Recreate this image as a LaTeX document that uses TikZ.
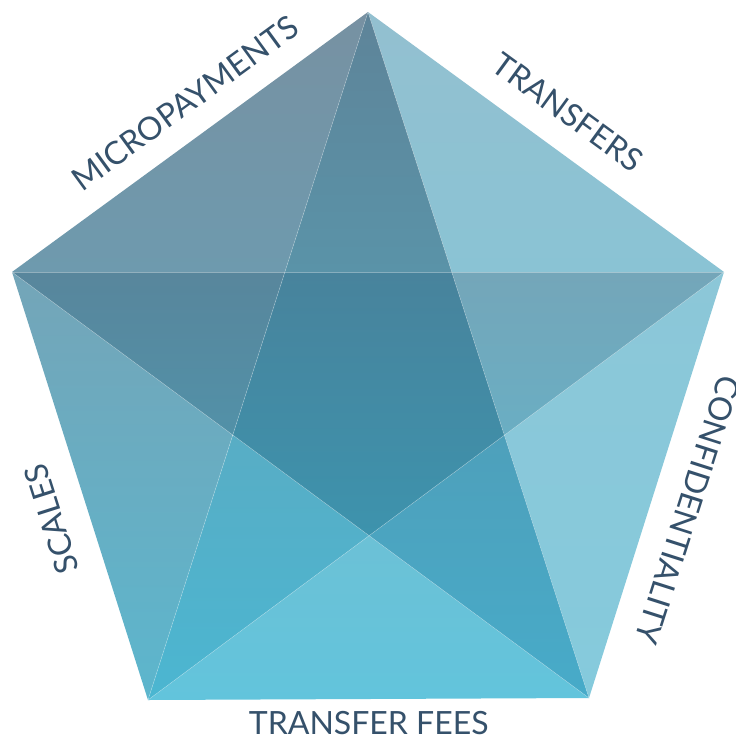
\documentclass[tikz,border=0pt]{standalone}
\usepackage{fontspec}
\setmainfont{Lato}
\begin{document}
\begin{tikzpicture}[x=1pt,y=-1pt,
  lbl/.style={font=\fontsize{32}{32}\selectfont, text=labelc, inner sep=0pt, anchor=center},
  seam/.style={draw=white, draw opacity=0.35, line width=0.5pt}
]
\definecolor{labelc}{HTML}{35516B}
\useasboundingbox (0,0) rectangle (736,740);
\fill[white] (0,0) rectangle (736,740);
% outer vertices
\coordinate (T) at (368,12);
\coordinate (R) at (724,272);
\coordinate (BR) at (589,698);
\coordinate (BL) at (148,700);
\coordinate (L) at (12,272);
% inner vertices
\coordinate (A) at (intersection of T--BL and L--R);
\coordinate (B) at (intersection of T--BR and L--R);
\coordinate (C) at (intersection of T--BR and R--BL);
\coordinate (D) at (intersection of L--BR and R--BL);
\coordinate (E) at (intersection of T--BL and L--BR);
% outer triangles
\shade[top color={rgb,255:red,119;green,145;blue,162}, bottom color={rgb,255:red,110;green,154;blue,174}] (T) -- (L) -- (A) -- cycle;
\shade[top color={rgb,255:red,147;green,192;blue,208}, bottom color={rgb,255:red,138;green,195;blue,212}] (T) -- (R) -- (B) -- cycle;
\shade[top color={rgb,255:red,140;green,199;blue,216}, bottom color={rgb,255:red,133;green,202;blue,220}] (R) -- (BR) -- (C) -- cycle;
\shade[top color={rgb,255:red,108;green,193;blue,214}, bottom color={rgb,255:red,98;green,196;blue,220}] (BR) -- (BL) -- (D) -- cycle;
\shade[top color={rgb,255:red,116;green,165;blue,184}, bottom color={rgb,255:red,92;green,182;blue,205}] (L) -- (BL) -- (E) -- cycle;
% star tips
\shade[top color={rgb,255:red,94;green,132;blue,153}, bottom color={rgb,255:red,90;green,147;blue,168}] (T) -- (A) -- (B) -- cycle;
\shade[top color={rgb,255:red,116;green,166;blue,185}, bottom color={rgb,255:red,106;green,174;blue,195}] (R) -- (B) -- (C) -- cycle;
\shade[top color={rgb,255:red,78;green,160;blue,187}, bottom color={rgb,255:red,71;green,171;blue,201}] (BR) -- (C) -- (D) -- cycle;
\shade[top color={rgb,255:red,88;green,173;blue,197}, bottom color={rgb,255:red,75;green,182;blue,209}] (BL) -- (D) -- (E) -- cycle;
\shade[top color={rgb,255:red,88;green,134;blue,156}, bottom color={rgb,255:red,82;green,145;blue,168}] (L) -- (E) -- (A) -- cycle;
% centre
\shade[top color={rgb,255:red,72;green,131;blue,156}, bottom color={rgb,255:red,61;green,147;blue,173}] (A) -- (B) -- (C) -- (D) -- (E) -- cycle;
% seams
\path[seam] (T) -- (BL);
\path[seam] (T) -- (BR);
\path[seam] (L) -- (R);
\path[seam] (L) -- (BR);
\path[seam] (R) -- (BL);
% labels
\node[lbl, rotate=36.1] (mp) at (185,103) {MICROPAYMENTS};
\node[lbl, rotate=-36.1] (tr) at (568,112) {TRANSFERS};
\node[lbl, rotate=-107.7] (cf) at (688,510) {CONFIDENTIALITY};
\node[lbl, rotate=107.6] (sc) at (51.5,519) {SCALES};
\node[lbl] (tf) at (368.7,723) {TRANSFER FEES};
\end{tikzpicture}
\end{document}
